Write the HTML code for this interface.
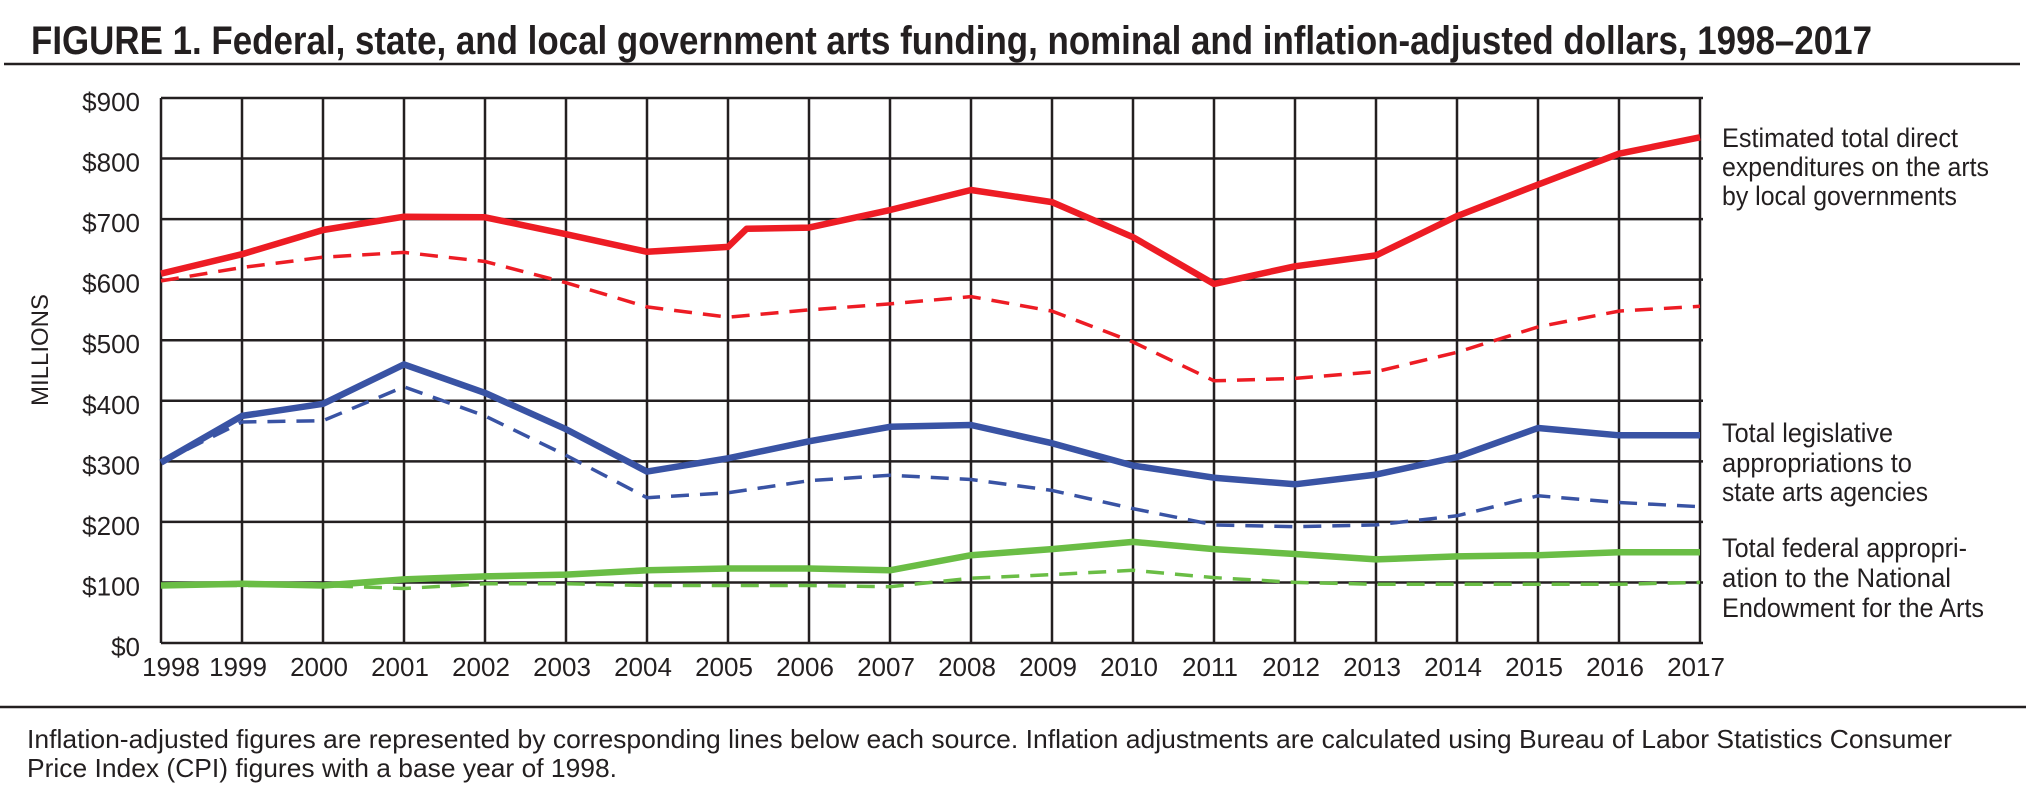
<!DOCTYPE html>
<html><head><meta charset="utf-8"><style>
html,body{margin:0;padding:0;background:#fff;}
svg{display:block;}
text{font-family:"Liberation Sans Narrow","Liberation Sans",sans-serif;fill:#231f20;}
</style></head><body>
<svg id="s" width="2026" height="801" viewBox="0 0 2026 801" xmlns="http://www.w3.org/2000/svg">
<text x="31" y="54" font-size="40" font-weight="bold" textLength="1841" lengthAdjust="spacingAndGlyphs">FIGURE 1. Federal, state, and local government arts funding, nominal and inflation-adjusted dollars, 1998–2017</text>
<line x1="4" y1="64" x2="2020" y2="64" stroke="#231f20" stroke-width="2.5"/>
<g id="grid" stroke="#231f20" stroke-width="2.5" fill="none"></g>
<g id="ylab" font-size="26" text-anchor="end"></g>
<g id="xlab" font-size="26" text-anchor="middle"></g>
<text transform="translate(48,350) rotate(-90)" font-size="24" text-anchor="middle">MILLIONS</text>
<g id="series" fill="none" stroke-linejoin="round"></g>
<g font-size="27">
<text x="1722" y="147" textLength="236" lengthAdjust="spacingAndGlyphs">Estimated total direct</text>
<text x="1722" y="176" textLength="267" lengthAdjust="spacingAndGlyphs">expenditures on the arts</text>
<text x="1722" y="205" textLength="235" lengthAdjust="spacingAndGlyphs">by local governments</text>
<text x="1722" y="442" textLength="171" lengthAdjust="spacingAndGlyphs">Total legislative</text>
<text x="1722" y="472" textLength="190" lengthAdjust="spacingAndGlyphs">appropriations to</text>
<text x="1722" y="501" textLength="206" lengthAdjust="spacingAndGlyphs">state arts agencies</text>
<text x="1722" y="557" textLength="245" lengthAdjust="spacingAndGlyphs">Total federal appropri-</text>
<text x="1722" y="587" textLength="229" lengthAdjust="spacingAndGlyphs">ation to the National</text>
<text x="1722" y="617" textLength="262" lengthAdjust="spacingAndGlyphs">Endowment for the Arts</text>
</g>
<line x1="0" y1="707" x2="2026" y2="707" stroke="#231f20" stroke-width="2.5"/>
<g font-size="26">
<text x="27" y="748" textLength="1925" lengthAdjust="spacingAndGlyphs">Inflation-adjusted figures are represented by corresponding lines below each source. Inflation adjustments are calculated using Bureau of Labor Statistics Consumer</text>
<text x="27" y="777" textLength="590" lengthAdjust="spacingAndGlyphs">Price Index (CPI) figures with a base year of 1998.</text>
</g>
</svg>
<script>
(function(){
var NS="http://www.w3.org/2000/svg";
function X(i){return 161+i*81.0;}
function Y(v){return 643-v*0.6056;}
function el(p,t,a,txt){var e=document.createElementNS(NS,t);for(var k in a)e.setAttribute(k,a[k]);if(txt)e.textContent=txt;document.getElementById(p).appendChild(e);}
for(var v=0;v<=900;v+=100){el("grid","line",{x1:161,x2:1703,y1:Y(v),y2:Y(v)});el("ylab","text",{x:140,y:Y(v)+13},"$"+v);}
for(var i=0;i<20;i++){el("grid","line",{x1:X(i),x2:X(i),y1:Y(900),y2:Y(0)});el("xlab","text",{x:X(i)-(i==0?-10:4),y:676},String(1998+i));}
function path(vals,extra){var pts=vals.map(function(v,i){return [X(i),Y(v)];});if(extra)pts.splice(extra[0],0,extra[1]);return "M"+pts.map(function(p){return p[0].toFixed(1)+","+p[1].toFixed(1);}).join("L");}
var red="#ed1c24",blue="#3953a4",green="#6abd45";
var S=[
[red,[598,620,637,645,630,595,555,538,550,560,572,548,497,433,437,448,480,522,548,556],1],
[blue,[298,365,367,423,375,310,240,248,268,277,270,252,222,195,192,195,210,243,232,225],1],
[green,[95,95,95,90,98,98,95,95,95,93,107,113,120,108,100,97,97,97,97,100],1],
[red,[610,642,682,704,703,675,646,654,686,715,748,728,670,593,622,640,705,757,808,835],0,[8,[X(7.23),Y(684)]]],
[blue,[298,375,395,460,413,353,283,305,333,357,360,330,293,273,262,278,307,355,343,343],0],
[green,[95,98,95,105,110,113,120,123,123,120,145,155,167,155,147,138,143,145,150,150],0]
];
S.forEach(function(s){
 var a={d:path(s[1],s[3]),stroke:s[0]};
 if(s[2]){a["stroke-width"]=3.5;a["stroke-dasharray"]="18 11";}else{a["stroke-width"]=6.5;}
 el("series","path",a);
});
})();
</script>
</body></html>
